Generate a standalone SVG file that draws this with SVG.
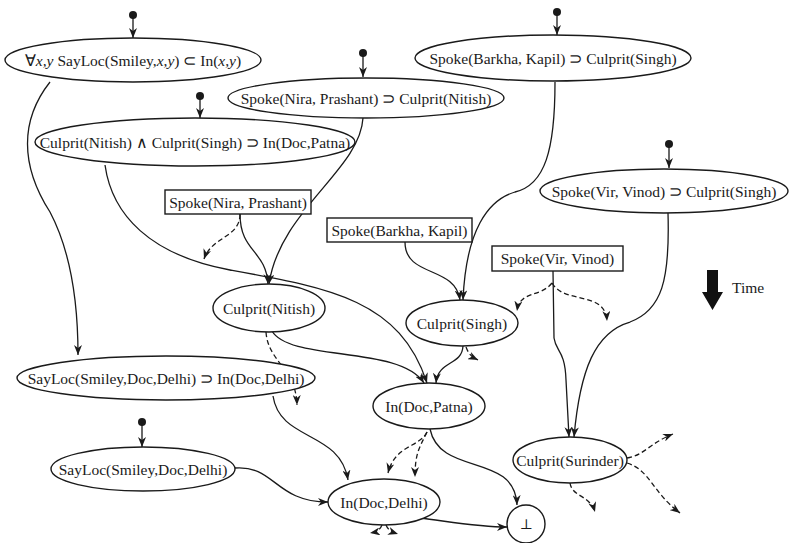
<svg xmlns="http://www.w3.org/2000/svg" width="789" height="543" viewBox="0 0 789 543">
<defs>
<marker id="ah" viewBox="0 0 10 8" refX="10" refY="4" markerWidth="10" markerHeight="8" markerUnits="userSpaceOnUse" orient="auto">
<path d="M0,0 L10,4 L0,8 L3,4 z" fill="#1a1a1a"/>
</marker>
<style>
.n ellipse, .n rect, .n circle.b { fill: #fff; stroke: #1a1a1a; stroke-width: 1.4; }
text { font-family: "Liberation Serif", "Times New Roman", serif; font-size: 15.5px; fill: #1a1a1a; text-anchor: middle; dominant-baseline: central; }
.e path { fill: none; stroke: #1a1a1a; stroke-width: 1.3; marker-end: url(#ah); }
.e path.d { stroke-dasharray: 5 3; }
.s circle { fill: #1a1a1a; }
.s line { stroke: #1a1a1a; stroke-width: 1.3; marker-end: url(#ah); }
</style>
</defs>
<rect width="789" height="543" fill="#fff"/>

<g id="edges" class="e">
<path d="M50,82 C20,120 20,165 50,212 C70,250 78,300 78,355"/>
<path d="M105,165 C112,215 150,255 230,270 C330,288 400,300 427,383"/>
<path d="M363,118 C360,170 280,210 269,284"/>
<path d="M240,214 C240,252 266,250 268,284"/>
<path class="d" d="M240,214 C240,238 212,236 204,259"/>
<path d="M555,82 C555,150 545,185 515,192 C488,200 466,230 463,300"/>
<path d="M405,242 C405,278 455,265 460,300"/>
<path d="M553,271 L554,338 C556,352 565,350 566,380 L569,437"/>
<path class="d" d="M552,283 C540,298 520,290 517,311"/>
<path class="d" d="M552,283 C565,305 605,290 607,321"/>
<path d="M668,213 C670,280 662,310 630,322 C595,332 580,370 574,437"/>
<path d="M272,331 C290,362 400,345 424,383"/>
<path class="d" d="M266,332 C268,362 296,368 297,405"/>
<path d="M463,346 C462,366 438,360 436,383"/>
<path class="d" d="M466,347 C469,355 472,357 478,360"/>
<path d="M273,396 C280,442 340,430 348,480"/>
<path d="M235,468 C275,465 275,502 328,502"/>
<path d="M430,429 C440,477 515,452 517,505"/>
<path class="d" d="M427,432 C420,447 395,445 388,473"/>
<path class="d" d="M427,432 C420,447 415,452 415,477"/>
<path d="M420,518 C452,522 480,527 507,527"/>
<path class="d" d="M382,525 C380,530 376,532 370,533"/>
<path class="d" d="M386,525 C388,530 392,532 398,534"/>
<path class="d" d="M627,458 C645,455 648,444 673,434"/>
<path class="d" d="M627,463 C650,470 652,492 680,513"/>
<path class="d" d="M570,483 C572,497 590,495 595,512"/>
</g>

<g id="starts" class="s">
<circle cx="133" cy="15" r="4"/><line x1="133" y1="15" x2="133" y2="38"/>
<circle cx="363" cy="53" r="4"/><line x1="363" y1="53" x2="363" y2="77"/>
<circle cx="200" cy="96" r="4"/><line x1="200" y1="96" x2="200" y2="118"/>
<circle cx="557" cy="12" r="4"/><line x1="557" y1="12" x2="557" y2="35"/>
<circle cx="669" cy="144" r="4"/><line x1="669" y1="144" x2="669" y2="168"/>
<circle cx="142" cy="422" r="4"/><line x1="142" y1="422" x2="142" y2="447"/>
</g>

<g id="n1" class="n"><ellipse cx="133" cy="60" rx="128" ry="22"/>
<text x="133" y="60">∀<tspan font-style="italic">x,y</tspan> SayLoc(Smiley,<tspan font-style="italic">x,y</tspan>) ⊂ In(<tspan font-style="italic">x,y</tspan>)</text></g>
<g id="n2" class="n"><ellipse cx="366" cy="98" rx="138" ry="20"/>
<text x="366" y="98">Spoke(Nira, Prashant) ⊃ Culprit(Nitish)</text></g>
<g id="n3" class="n"><ellipse cx="195" cy="142" rx="160" ry="24"/>
<text x="195" y="142">Culprit(Nitish) ∧ Culprit(Singh) ⊃ In(Doc,Patna)</text></g>
<g id="n4" class="n"><ellipse cx="553" cy="58" rx="138" ry="23"/>
<text x="553" y="58">Spoke(Barkha, Kapil) ⊃ Culprit(Singh)</text></g>
<g id="n5" class="n"><ellipse cx="664" cy="191" rx="124" ry="22"/>
<text x="664" y="191">Spoke(Vir, Vinod) ⊃ Culprit(Singh)</text></g>
<g id="n6" class="n"><rect x="165" y="190" width="146" height="24"/>
<text x="238" y="202">Spoke(Nira, Prashant)</text></g>
<g id="n7" class="n"><rect x="327" y="218" width="145" height="24"/>
<text x="399.5" y="230">Spoke(Barkha, Kapil)</text></g>
<g id="n8" class="n"><rect x="492" y="246" width="131" height="25"/>
<text x="557.5" y="258.5">Spoke(Vir, Vinod)</text></g>
<g id="n9" class="n"><ellipse cx="269" cy="308" rx="56" ry="24"/>
<text x="269" y="308">Culprit(Nitish)</text></g>
<g id="n10" class="n"><ellipse cx="462" cy="323" rx="56" ry="23"/>
<text x="462" y="323">Culprit(Singh)</text></g>
<g id="n11" class="n"><ellipse cx="166" cy="378" rx="149" ry="22"/>
<text x="166" y="378">SayLoc(Smiley,Doc,Delhi) ⊃ In(Doc,Delhi)</text></g>
<g id="n12" class="n"><ellipse cx="429" cy="406" rx="56" ry="23"/>
<text x="429" y="406">In(Doc,Patna)</text></g>
<g id="n13" class="n"><ellipse cx="143" cy="469" rx="92" ry="22"/>
<text x="143" y="469">SayLoc(Smiley,Doc,Delhi)</text></g>
<g id="n14" class="n"><ellipse cx="384" cy="502" rx="56" ry="23"/>
<text x="384" y="502">In(Doc,Delhi)</text></g>
<g id="n15" class="n"><circle class="b" cx="526" cy="524" r="19"/>
<text x="526" y="524" style="font-family:'DejaVu Serif',serif;font-size:14px">⊥</text></g>
<g id="n16" class="n"><ellipse cx="570" cy="460" rx="57" ry="23"/>
<text x="570" y="460">Culprit(Surinder)</text></g>

<g id="time">
<polygon points="707,270 718,270 718,292 723,292 712.5,310 702,292 707,292" fill="#111"/>
<text x="732" y="287" style="text-anchor:start">Time</text>
</g>
</svg>
